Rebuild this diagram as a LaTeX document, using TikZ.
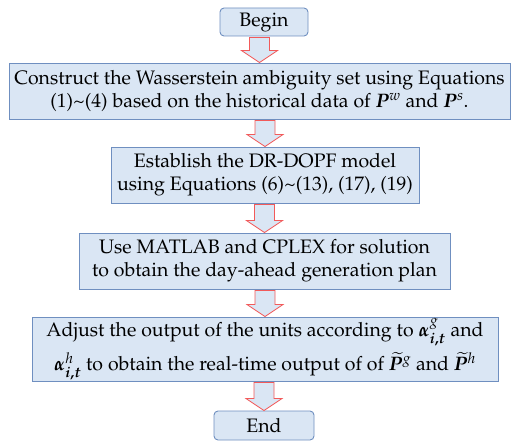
\documentclass[tikz,border=0pt]{standalone}
\usepackage[T1]{fontenc}
\usepackage{mathpazo}
\usepackage{amsmath, amssymb, bm}
\usepackage{tikz}
\usetikzlibrary{calc}

\definecolor{boxfill}{HTML}{DAE6F4}
\definecolor{boxline}{HTML}{6F8FC0}
\definecolor{arrline}{HTML}{F25A5A}

% hollow block arrow from the bottom of #1 down to the top of #2
\newcommand{\flowarrow}[2]{%
    \path (#1.south) coordinate (s) (#2.north) coordinate (t);
    \draw[flowarr] ($(t |- s)+(-10,1)$) -- ($(t |- s)+(10,1)$) -- ($(t)+(10,-12)$)
        -- ($(t)+(18,-12)$) -- (t) -- ($(t)+(-18,-12)$) -- ($(t)+(-10,-12)$) -- cycle;
}

\begin{document}
\begin{tikzpicture}[x=1pt, y=-1pt,
        stepbox/.style={rectangle, draw=boxline, fill=boxfill, line width=0.9pt,
            inner sep=0pt, align=center, font=\fontsize{19.5}{23}\selectfont},
        termbox/.style={stepbox, rounded corners=4pt},
        flowarr/.style={draw=arrline, fill=boxfill, line width=0.8pt, line join=miter}]
    \useasboundingbox (0,0) rectangle (511,441);

    % Nodes
    \node[termbox, minimum width=88pt, minimum height=28pt] (begin) at (264,22) {Begin};
    \node[stepbox, minimum width=501pt, minimum height=56pt] (wass) at (259.5,91)
        {Construct the Wasserstein ambiguity set using Equations\\
         (1)\textasciitilde(4) based on the historical data of $\bm{P}^{w}$ and $\bm{P}^{s}$.};
    \node[stepbox, minimum width=308pt, minimum height=56pt] (model) at (265,175)
        {Establish the DR-DOPF model\\
         using Equations (6)\textasciitilde(13), (17), (19)};
    \node[stepbox, minimum width=371pt, minimum height=56pt] (solve) at (264.5,261)
        {Use MATLAB and CPLEX for solution\\
         to obtain the day-ahead generation plan};
    \node[stepbox, minimum width=466pt, minimum height=64pt] (adjust) at (265,349)
        {Adjust the output of the units according to $\bm{\alpha}_{\bm{i,t}}^{g}$ and\\[6pt]
         $\bm{\alpha}_{\bm{i,t}}^{h}$ to obtain the real-time output of of
         $\widetilde{\bm{P}}^{g}$ and $\widetilde{\bm{P}}^{h}$};
    \node[termbox, minimum width=100pt, minimum height=29pt] (end) at (264,425.5) {End};

    % Arrows
    \flowarrow{begin}{wass}
    \flowarrow{wass}{model}
    \flowarrow{model}{solve}
    \flowarrow{solve}{adjust}
    \flowarrow{adjust}{end}
\end{tikzpicture}
\end{document}
